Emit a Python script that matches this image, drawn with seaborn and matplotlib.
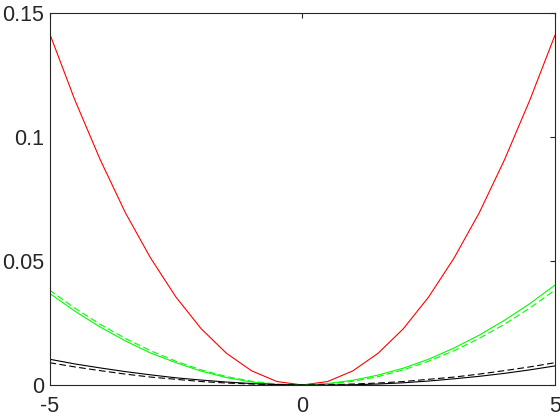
import numpy as np
import matplotlib
matplotlib.use("Agg")
import matplotlib.pyplot as plt
import pandas as pd
import seaborn as sns

# Dati (passo 0.5 su x)
x = [-5.0, -4.5, -4.0, -3.5, -3.0, -2.5, -2.0, -1.5, -1.0, -0.5, 0.0,
     0.5, 1.0, 1.5, 2.0, 2.5, 3.0, 3.5, 4.0, 4.5, 5.0]

red = [0.1419, 0.1150, 0.0910, 0.0695, 0.0512, 0.0355, 0.0227, 0.0128, 0.0057, 0.0014, 0.0,
       0.0014, 0.0057, 0.0128, 0.0227, 0.0355, 0.0511, 0.0694, 0.0908, 0.1148, 0.1411]

green_solid = [0.0370, 0.0298, 0.0234, 0.0178, 0.0129, 0.0090, 0.0056, 0.0030, 0.0012, 0.0002, 0.0,
               0.0006, 0.0019, 0.0040, 0.0068, 0.0104, 0.0149, 0.0201, 0.0261, 0.0328, 0.0403]

green_dashed = [0.0383, 0.0310, 0.0245, 0.0188, 0.0138, 0.0096, 0.0061, 0.0034, 0.0015, 0.0004, 0.0,
                0.0004, 0.0015, 0.0034, 0.0061, 0.0096, 0.0138, 0.0188, 0.0245, 0.0310, 0.0383]

black_solid = [0.0104, 0.0085, 0.0069, 0.0054, 0.0041, 0.0029, 0.0020, 0.0012, 0.0006, 0.0002, 0.0,
               0.0000, 0.0001, 0.0004, 0.0009, 0.0016, 0.0025, 0.0035, 0.0047, 0.0061, 0.0077]

black_dashed = [0.0090, 0.0073, 0.0058, 0.0044, 0.0032, 0.0023, 0.0014, 0.0008, 0.0004, 0.0001, 0.0,
                0.0001, 0.0004, 0.0008, 0.0014, 0.0023, 0.0032, 0.0044, 0.0058, 0.0073, 0.0090]

x_ticks = [-5, 0, 5]
y_ticks = [0, 0.05, 0.1, 0.15]
y_tick_labels = ['0', '0.05', '0.1', '0.15']

sns.set_style("white")
plt.rcParams['font.family'] = ['Liberation Sans', 'DejaVu Sans']

fig = plt.figure(figsize=(5.6, 4.2), dpi=100)
ax = fig.add_axes([0.0884, 0.0833, 0.9027, 0.8857])

dark = '#262626'
series = [
    (red, (1, 0, 0), '-'),
    (green_solid, (0, 1, 0), '-'),
    (green_dashed, (0, 1, 0), '--'),
    (black_solid, 'black', '-'),
    (black_dashed, 'black', '--'),
]
for vals, col, ls in series:
    sns.lineplot(x=x, y=vals, ax=ax, color=col, linewidth=0.8)
    ax.lines[-1].set_linestyle(ls)
    if ls == '--':
        ax.lines[-1].set_dashes((6, 3))

ax.set_xlim(-5, 5)
ax.set_ylim(0, 0.15)
ax.set_xticks(x_ticks)
ax.set_xticklabels([str(t) for t in x_ticks])
ax.set_yticks(y_ticks)
ax.set_yticklabels(y_tick_labels)

ax.tick_params(direction='in', length=3.6, width=0.8, color=dark, labelcolor=dark,
               labelsize=15.5, top=True, right=True)
ax.tick_params(axis='x', pad=8)
ax.tick_params(axis='y', pad=4)
for s in ax.spines.values():
    s.set_visible(True)
    s.set_color(dark)
    s.set_linewidth(0.8)

fig.savefig('out.png', dpi=100)
